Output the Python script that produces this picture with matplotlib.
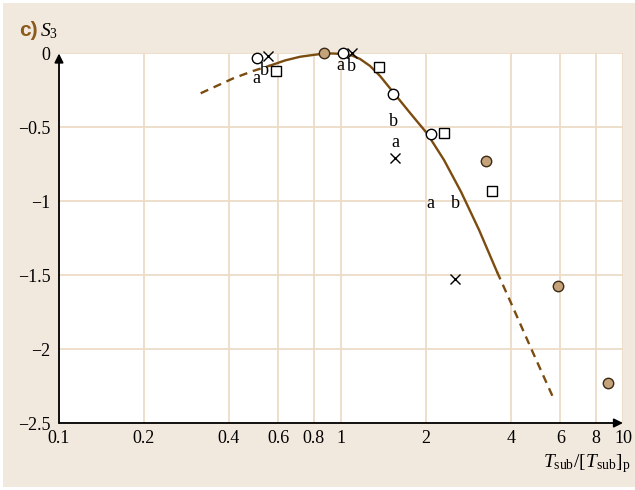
import matplotlib
matplotlib.use("Agg")
import matplotlib.pyplot as plt
from matplotlib.patches import Rectangle
from matplotlib.ticker import FixedLocator, FixedFormatter, NullLocator

plt.rcParams['font.family'] = ['Liberation Serif', 'DejaVu Serif']
plt.rcParams['mathtext.fontset'] = 'custom'
plt.rcParams['mathtext.rm'] = 'Liberation Serif'
plt.rcParams['mathtext.it'] = 'Liberation Serif:italic'

# fitted curve, dashed where it is extrapolated
fit_left_x = [0.318, 0.415, 0.488, 0.56]
fit_left_y = [-0.269, -0.168, -0.118, -0.082]
fit_x = [0.56, 0.633, 0.716, 0.802, 0.87, 0.937, 1.0, 1.094, 1.168, 1.267, 1.375,
         1.529, 1.757, 2.018, 2.318, 2.665, 3.086, 3.574]
fit_y = [-0.082, -0.047, -0.022, -0.009, -0.001, 0.0, -0.003, -0.0135, -0.037, -0.084, -0.152,
         -0.26, -0.402, -0.540, -0.720, -0.936, -1.193, -1.477]
fit_right_x = [3.574, 3.98, 4.74, 5.66]
fit_right_y = [-1.477, -1.675, -2.003, -2.33]

# measured points
circ_x = [0.502, 1.02, 1.533, 2.085]
circ_y = [-0.032, 0.0, -0.274, -0.544]
cross_x = [0.552, 1.09, 1.554, 2.54]
cross_y = [-0.015, 0.0, -0.708, -1.526]
sq_x = [0.587, 1.364, 2.32, 3.42]
sq_y = [-0.116, -0.093, -0.539, -0.927]
ball_x = [0.87, 3.26, 5.9, 8.83]
ball_y = [0.0, -0.724, -1.576, -2.228]

labels = ['a', 'b', 'a', 'b', 'b', 'a', 'a', 'b']
label_x = [0.502, 0.535, 0.992, 1.09, 1.54, 1.554, 2.07, 2.54]
label_y = [-0.17, -0.113, -0.078, -0.089, -0.461, -0.603, -1.017, -1.017]

xticks = [0.1, 0.2, 0.4, 0.6, 0.8, 1, 2, 4, 6, 8, 10]
xticklabels = ['0.1', '0.2', '0.4', '0.6', '0.8', '1', '2', '4', '6', '8', '10']
yticks = [-2.5, -2, -1.5, -1, -0.5, 0]
yticklabels = ['\u22122.5', '\u22122', '\u22121.5', '\u22121', '\u22120.5', '0']

W, H = 635, 490
bg = '#f2e9de'
grid_c = '#ecdcc6'
brown = '#7b4c10'

fig = plt.figure(figsize=(W / 100, H / 100), dpi=100)
fig.patch.set_facecolor('white')
fig.patches.append(Rectangle((3 / W, 3 / H), 1, 1 - 6 / H, transform=fig.transFigure,
                             facecolor=bg, edgecolor='none', zorder=-1))

ax = fig.add_axes([59 / W, 1 - 423 / H, (623 - 59) / W, (423 - 53.5) / H])
ax.set_facecolor('white')
ax.set_xscale('log')
ax.set_xlim(0.1, 10)
ax.set_ylim(-2.5, 0)

ax.xaxis.set_major_locator(FixedLocator(xticks))
ax.xaxis.set_major_formatter(FixedFormatter(xticklabels))
ax.xaxis.set_minor_locator(NullLocator())
ax.set_yticks(yticks)
ax.set_yticklabels(yticklabels)
ax.tick_params(length=0, labelsize=13, colors='black')
ax.tick_params(axis='y', pad=6)
ax.tick_params(axis='x', pad=5)
ax.grid(True, color=grid_c, lw=1.3)
ax.set_axisbelow(True)
for s in ax.spines.values():
    s.set_visible(False)

# axes with arrow heads
arrow = dict(arrowstyle='-|>', color='black', lw=1.3, mutation_scale=13, shrinkA=0, shrinkB=0)
ax.annotate('', xy=(0, 1.0), xytext=(0, 0), xycoords='axes fraction', arrowprops=arrow)
ax.annotate('', xy=(1.0, 0), xytext=(0, 0), xycoords='axes fraction', arrowprops=arrow)

ax.plot(fit_left_x, fit_left_y, color=brown, lw=1.7, ls=(0, (3.5, 2.5)))
ax.plot(fit_x, fit_y, color=brown, lw=1.7, clip_on=False, solid_joinstyle='round')
ax.plot(fit_right_x, fit_right_y, color=brown, lw=1.7, ls=(0, (3.5, 2.5)))

ax.plot(circ_x, circ_y, 'o', ms=7.5, mfc='white', mec='black', mew=1, clip_on=False, zorder=5)
ax.plot(cross_x, cross_y, 'x', ms=6.5, color='black', mew=1, clip_on=False, zorder=5)
ax.plot(sq_x, sq_y, 's', ms=6.5, mfc='white', mec='black', mew=1, clip_on=False, zorder=5)
ax.plot(ball_x, ball_y, 'o', ms=7.5, mfc='#c4a27a', mec='#3d2a14', mew=1, clip_on=False, zorder=5)

for t, x, y in zip(labels, label_x, label_y):
    ax.text(x, y, t, fontsize=13, ha='center', va='center', zorder=6)

fig.text(19 / W, 1 - 31 / H, 'c)', fontsize=15, fontweight='bold', color='#8b5a1e',
         family='Liberation Sans', va='center', ha='left')
fig.text(40 / W, 1 - 31 / H, r'$S_3$', fontsize=14, va='center', ha='left')
fig.text(630 / W, 1 - 464 / H, r'$T_{\mathrm{sub}}/[T_{\mathrm{sub}}]_{\mathrm{p}}$',
         fontsize=14, ha='right', va='center')

fig.savefig('out.png', dpi=100, facecolor=fig.get_facecolor())
